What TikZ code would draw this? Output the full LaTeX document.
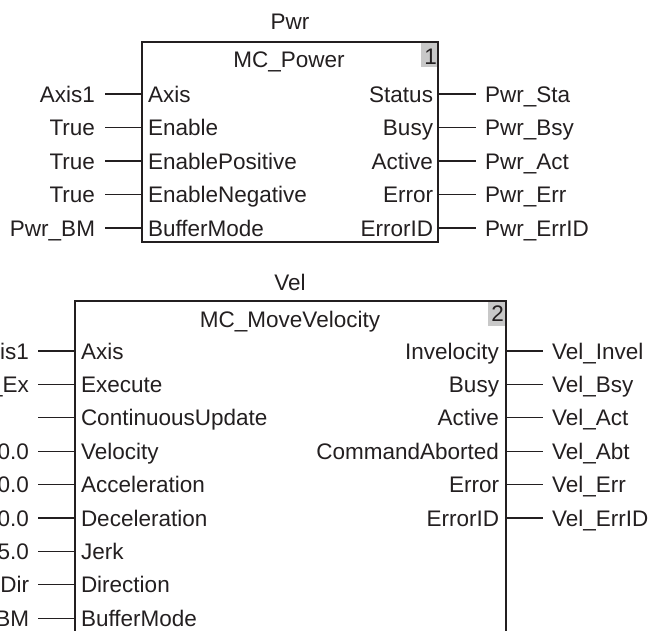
\documentclass[tikz,border=0pt]{standalone}
\usepackage{fontspec}
\setmainfont{Liberation Sans}
\definecolor{ink}{HTML}{231F20}
\definecolor{numgray}{HTML}{C8C8C8}
\tikzset{
  lbl/.style={inner sep=0pt, outer sep=0pt, text=ink, font=\fontsize{22.5}{27}\selectfont},
  fbbox/.style={draw=ink, line width=1.8pt},
  conn/.style={draw=ink, line width=1.3pt},
  numbox/.style={fill=numgray, draw=none}
}
\begin{document}
\begin{tikzpicture}[x=1pt, y=-1pt]
\useasboundingbox (0,0) rectangle (652,630);
\clip (0,0) rectangle (652,630);

% ---------- MC_Power block ----------
\coordinate (pTL) at (142,42);
\coordinate (pBR) at (438,242);
\fill[numbox] (421,42) rectangle (438,67);
\draw[fbbox] (pTL) rectangle (pBR);
\node[lbl, anchor=base east] (pNum) at (437,64) {1};
\node[lbl, anchor=base] (pInst) at (290,29) {Pwr};
\node[lbl, anchor=base] (pName) at (289,67) {MC\_Power};

\foreach \i/\lab/\pin in {0/Axis1/Axis, 1/True/Enable, 2/True/EnablePositive, 3/True/EnableNegative, 4/Pwr\_BM/BufferMode} {
  \pgfmathsetmacro\yy{94+33.5*\i}
  \coordinate (pin\i) at (142,\yy);
  \coordinate (pinEnd\i) at (105,\yy);
  \node[lbl, anchor=base east] (pinL\i) at (95,\yy+8) {\lab};
  \node[lbl, anchor=base west] (pinP\i) at (148,\yy+8) {\pin};
  \draw[conn] (pinEnd\i) -- (pin\i);
}
\foreach \i/\pin/\lab in {0/Status/Pwr\_Sta, 1/Busy/Pwr\_Bsy, 2/Active/Pwr\_Act, 3/Error/Pwr\_Err, 4/ErrorID/Pwr\_ErrID} {
  \pgfmathsetmacro\yy{94+33.5*\i}
  \coordinate (pout\i) at (438,\yy);
  \coordinate (poutEnd\i) at (476,\yy);
  \node[lbl, anchor=base east] (poutP\i) at (433,\yy+8) {\pin};
  \node[lbl, anchor=base west] (poutL\i) at (485,\yy+8) {\lab};
  \draw[conn] (pout\i) -- (poutEnd\i);
}

% ---------- MC_MoveVelocity block ----------
\coordinate (vTL) at (75,301);
\coordinate (vBR) at (506,660);
\fill[numbox] (488,301) rectangle (506,326);
\draw[fbbox] (vTL) rectangle (vBR);
\node[lbl, anchor=base east] (vNum) at (504,321) {2};
\node[lbl, anchor=base] (vInst) at (290,290) {Vel};
\node[lbl, anchor=base] (vName) at (290,327) {MC\_MoveVelocity};

\foreach \i/\lab/\pin in {0/Axis1/Axis, 1/Vel\_Ex/Execute, 2/{}/ContinuousUpdate, 3/0.0/Velocity, 4/0.0/Acceleration, 5/0.0/Deceleration, 6/5.0/Jerk, 7/Dir/Direction, 8/BM/BufferMode} {
  \pgfmathsetmacro\yy{351+33.4*\i}
  \coordinate (vin\i) at (75,\yy);
  \coordinate (vinEnd\i) at (38,\yy);
  \node[lbl, anchor=base east] (vinL\i) at (29,\yy+8) {\lab};
  \node[lbl, anchor=base west] (vinP\i) at (81,\yy+8) {\pin};
  \draw[conn] (vinEnd\i) -- (vin\i);
}
\foreach \i/\pin/\lab in {0/Invelocity/Vel\_Invel, 1/Busy/Vel\_Bsy, 2/Active/Vel\_Act, 3/CommandAborted/Vel\_Abt, 4/Error/Vel\_Err, 5/ErrorID/Vel\_ErrID} {
  \pgfmathsetmacro\yy{351+33.4*\i}
  \coordinate (vout\i) at (506,\yy);
  \coordinate (voutEnd\i) at (543,\yy);
  \node[lbl, anchor=base east] (voutP\i) at (499,\yy+8) {\pin};
  \node[lbl, anchor=base west] (voutL\i) at (552,\yy+8) {\lab};
  \draw[conn] (vout\i) -- (voutEnd\i);
}
\end{tikzpicture}
\end{document}
